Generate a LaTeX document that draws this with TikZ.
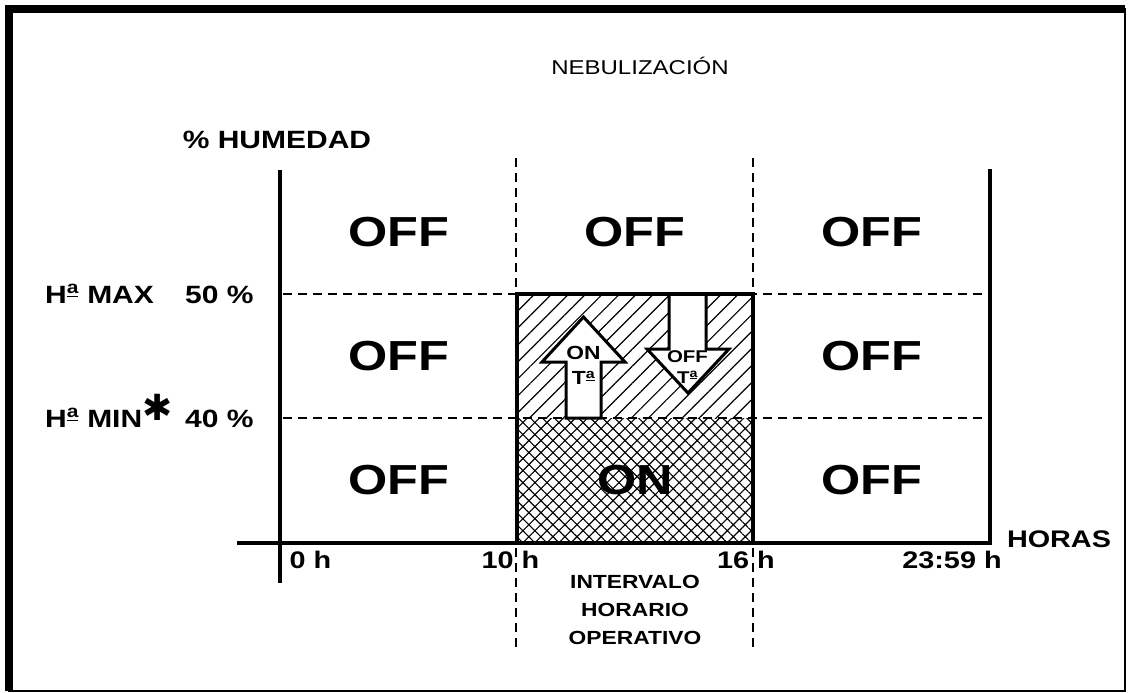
\documentclass[tikz,border=0pt]{standalone}
\usepackage{fontspec}
\setmainfont{Liberation Sans}[FakeStretch=1.2]
\newfontfamily\symfont{DejaVu Sans}
\usetikzlibrary{patterns.meta}

% underlined feminine ordinal
\newcommand{\ordfem}{\textsuperscript{\rlap{a}\rule[-0.2em]{0.66em}{0.1em}}}

\tikzset{
  cellword/.style={font=\fontsize{42}{46}\selectfont\bfseries},
  sidelbl/.style={font=\fontsize{25}{28}\selectfont\bfseries, inner sep=0pt},
  ticklbl/.style={font=\fontsize{24}{27}\selectfont\bfseries, inner sep=0pt},
  arrowtxt/.style={font=\fontsize{19}{21}\selectfont\bfseries, inner sep=0pt},
  axisline/.style={line width=4.5pt, line join=miter},
  guideline/.style={line width=1.9pt, dash pattern=on 9pt off 6pt},
  bigarrow/.style={draw, line width=3pt, fill=white, line join=miter}
}

\begin{document}
\begin{tikzpicture}[x=1pt,y=-1pt]
    \useasboundingbox (0,0) rectangle (1128,693);

    % draw frame
    \draw[line width=2.5pt] (9,9) rectangle (1125,691);
    \draw[line width=8pt] (9,691) -- (9,9) -- (1125,9);

    % draw hatching of the operating interval
    \fill[pattern={Lines[angle=45,distance=12pt,line width=1.2pt]}] (517,294) rectangle (753,418);
    \fill[pattern={Hatch[angle=45,distance=8.5pt,line width=1.1pt]}] (517,418) rectangle (753,543);

    % guide points
    \coordinate (d10a) at (516,158);
    \coordinate (d10b) at (516,648);
    \coordinate (d16a) at (753,158);
    \coordinate (d16b) at (753,648);
    \coordinate (hmaxa) at (283,294);
    \coordinate (hmaxb) at (990,294);
    \coordinate (hmina) at (283,418);
    \coordinate (hminb) at (990,418);

    % draw dashed lines
    \draw[guideline] (d10a) -- (d10b);
    \draw[guideline] (d16a) -- (d16b);
    \draw[guideline] (hmaxa) -- (hmaxb);
    \draw[guideline] (hmina) -- (hminb);

    % draw arrows
    \draw[bigarrow] (566,418) -- (566,362) -- (542,362) -- (583.5,317) -- (625,362) -- (601,362) -- (601,418) -- cycle;
    \draw[bigarrow] (669,294) -- (669,349) -- (647,349) -- (688,393) -- (729,349) -- (706,349) -- (706,294);

    % draw operating box
    \draw[line width=4pt] (517,294) rectangle (753,543);

    % draw axes
    \draw[axisline] (280,170) -- (280,583);
    \draw[axisline] (990,169) -- (990,543) -- (237,543);

    % draw titles
    \node (title) at (640,66) {\fontsize{20}{24}\selectfont NEBULIZACIÓN};
    \node[sidelbl] (ylabel) at (277,140) {\% HUMEDAD};
    \node[ticklbl, anchor=base] (xlabel) at (1059,547) {HORAS};

    % draw humidity levels
    \node[sidelbl, anchor=base west] (hmax) at (45,303) {H\ordfem\ MAX};
    \node[sidelbl, anchor=base west] (v50) at (185,303) {50 \%};
    \node[sidelbl, anchor=base west] (hmin) at (45,427) {H\ordfem\ MIN\raisebox{7pt}{\symfont\fontsize{36}{36}\selectfont ✱}};
    \node[sidelbl, anchor=base west] (v40) at (185,427) {40 \%};

    % draw hours
    \node[ticklbl, anchor=base] (t0) at (310.5,568) {0 h};
    \node[ticklbl, anchor=base] (t10) at (510.5,568) {10 h};
    \node[ticklbl, anchor=base] (t16) at (746,568) {16 h};
    \node[ticklbl, anchor=base] (t2359) at (952,568) {23:59 h};
    \node[font=\fontsize{19}{28}\selectfont\bfseries, align=center] (interval) at (635,610) {INTERVALO\\HORARIO\\OPERATIVO};

    % draw states
    \node[cellword] (c11) at (398.5,232) {OFF};
    \node[cellword] (c21) at (635,232) {OFF};
    \node[cellword] (c31) at (871.5,232) {OFF};
    \node[cellword] (c12) at (398.5,356) {OFF};
    \node[cellword] (c32) at (871.5,356) {OFF};
    \node[cellword] (c13) at (398.5,480.5) {OFF};
    \node[cellword] (c23) at (635,480.5) {ON};
    \node[cellword] (c33) at (871.5,480.5) {OFF};

    % draw arrow texts
    \node[arrowtxt] (onword) at (583.5,353) {ON};
    \node[arrowtxt] (onta) at (583.5,378) {T\ordfem};
    \node[arrowtxt, font=\fontsize{17}{19}\selectfont\bfseries] (offword) at (687.5,357) {OFF};
    \node[arrowtxt, font=\fontsize{17}{19}\selectfont\bfseries] (offta) at (687.5,377) {T\ordfem};
\end{tikzpicture}
\end{document}
